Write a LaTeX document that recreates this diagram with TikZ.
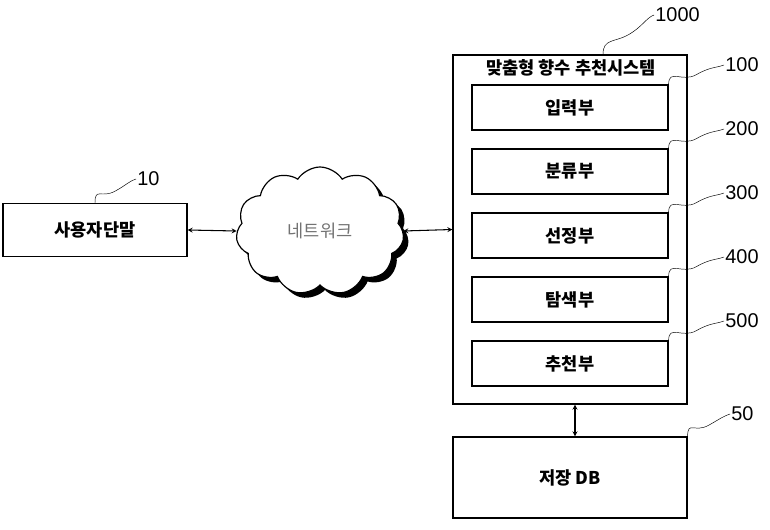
\documentclass[tikz,border=0pt]{standalone}
\usepackage{fontspec}
\setmainfont{Noto Sans CJK KR}
\newfontfamily\numfont{Liberation Sans}
\usetikzlibrary{shapes.symbols,shadows,calc,positioning}

\begin{document}
\begin{tikzpicture}[x=0.3mm, y=0.3mm, >=stealth,
	box/.style={draw, line width=1.1pt, rectangle, font=\bfseries\fontsize{15}{17}\selectfont},
	num/.style={anchor=west, inner sep=1pt, font=\numfont\fontsize{17}{19}\selectfont},
	link/.style={<->, line width=0.9pt},
	leader/.style={to path={.. controls +(0,16) and +(-14,-8) .. ($(\tikztostart)!0.5!(\tikztotarget)$) .. controls +(14,8) and +(-8,-3) .. (\tikztotarget)}}]
	\useasboundingbox (0,0) rectangle (770,529);
	% terminal and network
	\node[box, minimum width=184*0.3mm, minimum height=53*0.3mm] (user) at (95,299) {사용자단말};
	\node[cloud, draw, line width=1pt, fill=white, cloud puffs=11, cloud puff arc=115, aspect=1.3,
		minimum width=168*0.3mm, minimum height=128*0.3mm,
		drop shadow={fill=black, opacity=1, shadow xshift=1.5mm, shadow yshift=-1.5mm},
		font=\fontsize{15}{17}\selectfont, text=black!55] (net) at (320,298) {네트워크};
	% recommendation system
	\node[box, minimum width=234*0.3mm, minimum height=349*0.3mm] (sys) at (570,299.5) {};
	\node[font=\bfseries\fontsize{15}{17}\selectfont] (title) at (571,461) {맞춤형 향수 추천시스템};
	\foreach \i/\txt/\ref in {0/입력부/100, 1/분류부/200, 2/선정부/300, 3/탐색부/400, 4/추천부/500}{
		\node[box, minimum width=196*0.3mm, minimum height=45*0.3mm] (part\i) at (570,421.5-64*\i) {\txt};
		\node[num] (lab\i) at (724,464-64*\i) {\ref};
		\draw[thin] (part\i.north east) to[leader] (lab\i.west);
	}
	% storage
	\node[box, minimum width=234*0.3mm, minimum height=81*0.3mm] (db) at (570,51.5) {저장 DB};
	% reference numbers
	\node[num] (labuser) at (136,350) {10};
	\node[num] (labsys) at (654,514) {1000};
	\node[num] (labdb) at (730,115) {50};
	\draw[thin] (user.north) to[leader] (labuser.west);
	\draw[thin] ([xshift=33*0.3mm]sys.north) to[leader] (labsys.west);
	\draw[thin] (db.north east) to[leader] (labdb.west);
	% connections
	\draw[link] (user.east) -- (net.west);
	\draw[link] (net.east) -- (sys.west);
	\draw[link] ([xshift=5*0.3mm]sys.south) -- ([xshift=5*0.3mm]db.north);
\end{tikzpicture}
\end{document}
